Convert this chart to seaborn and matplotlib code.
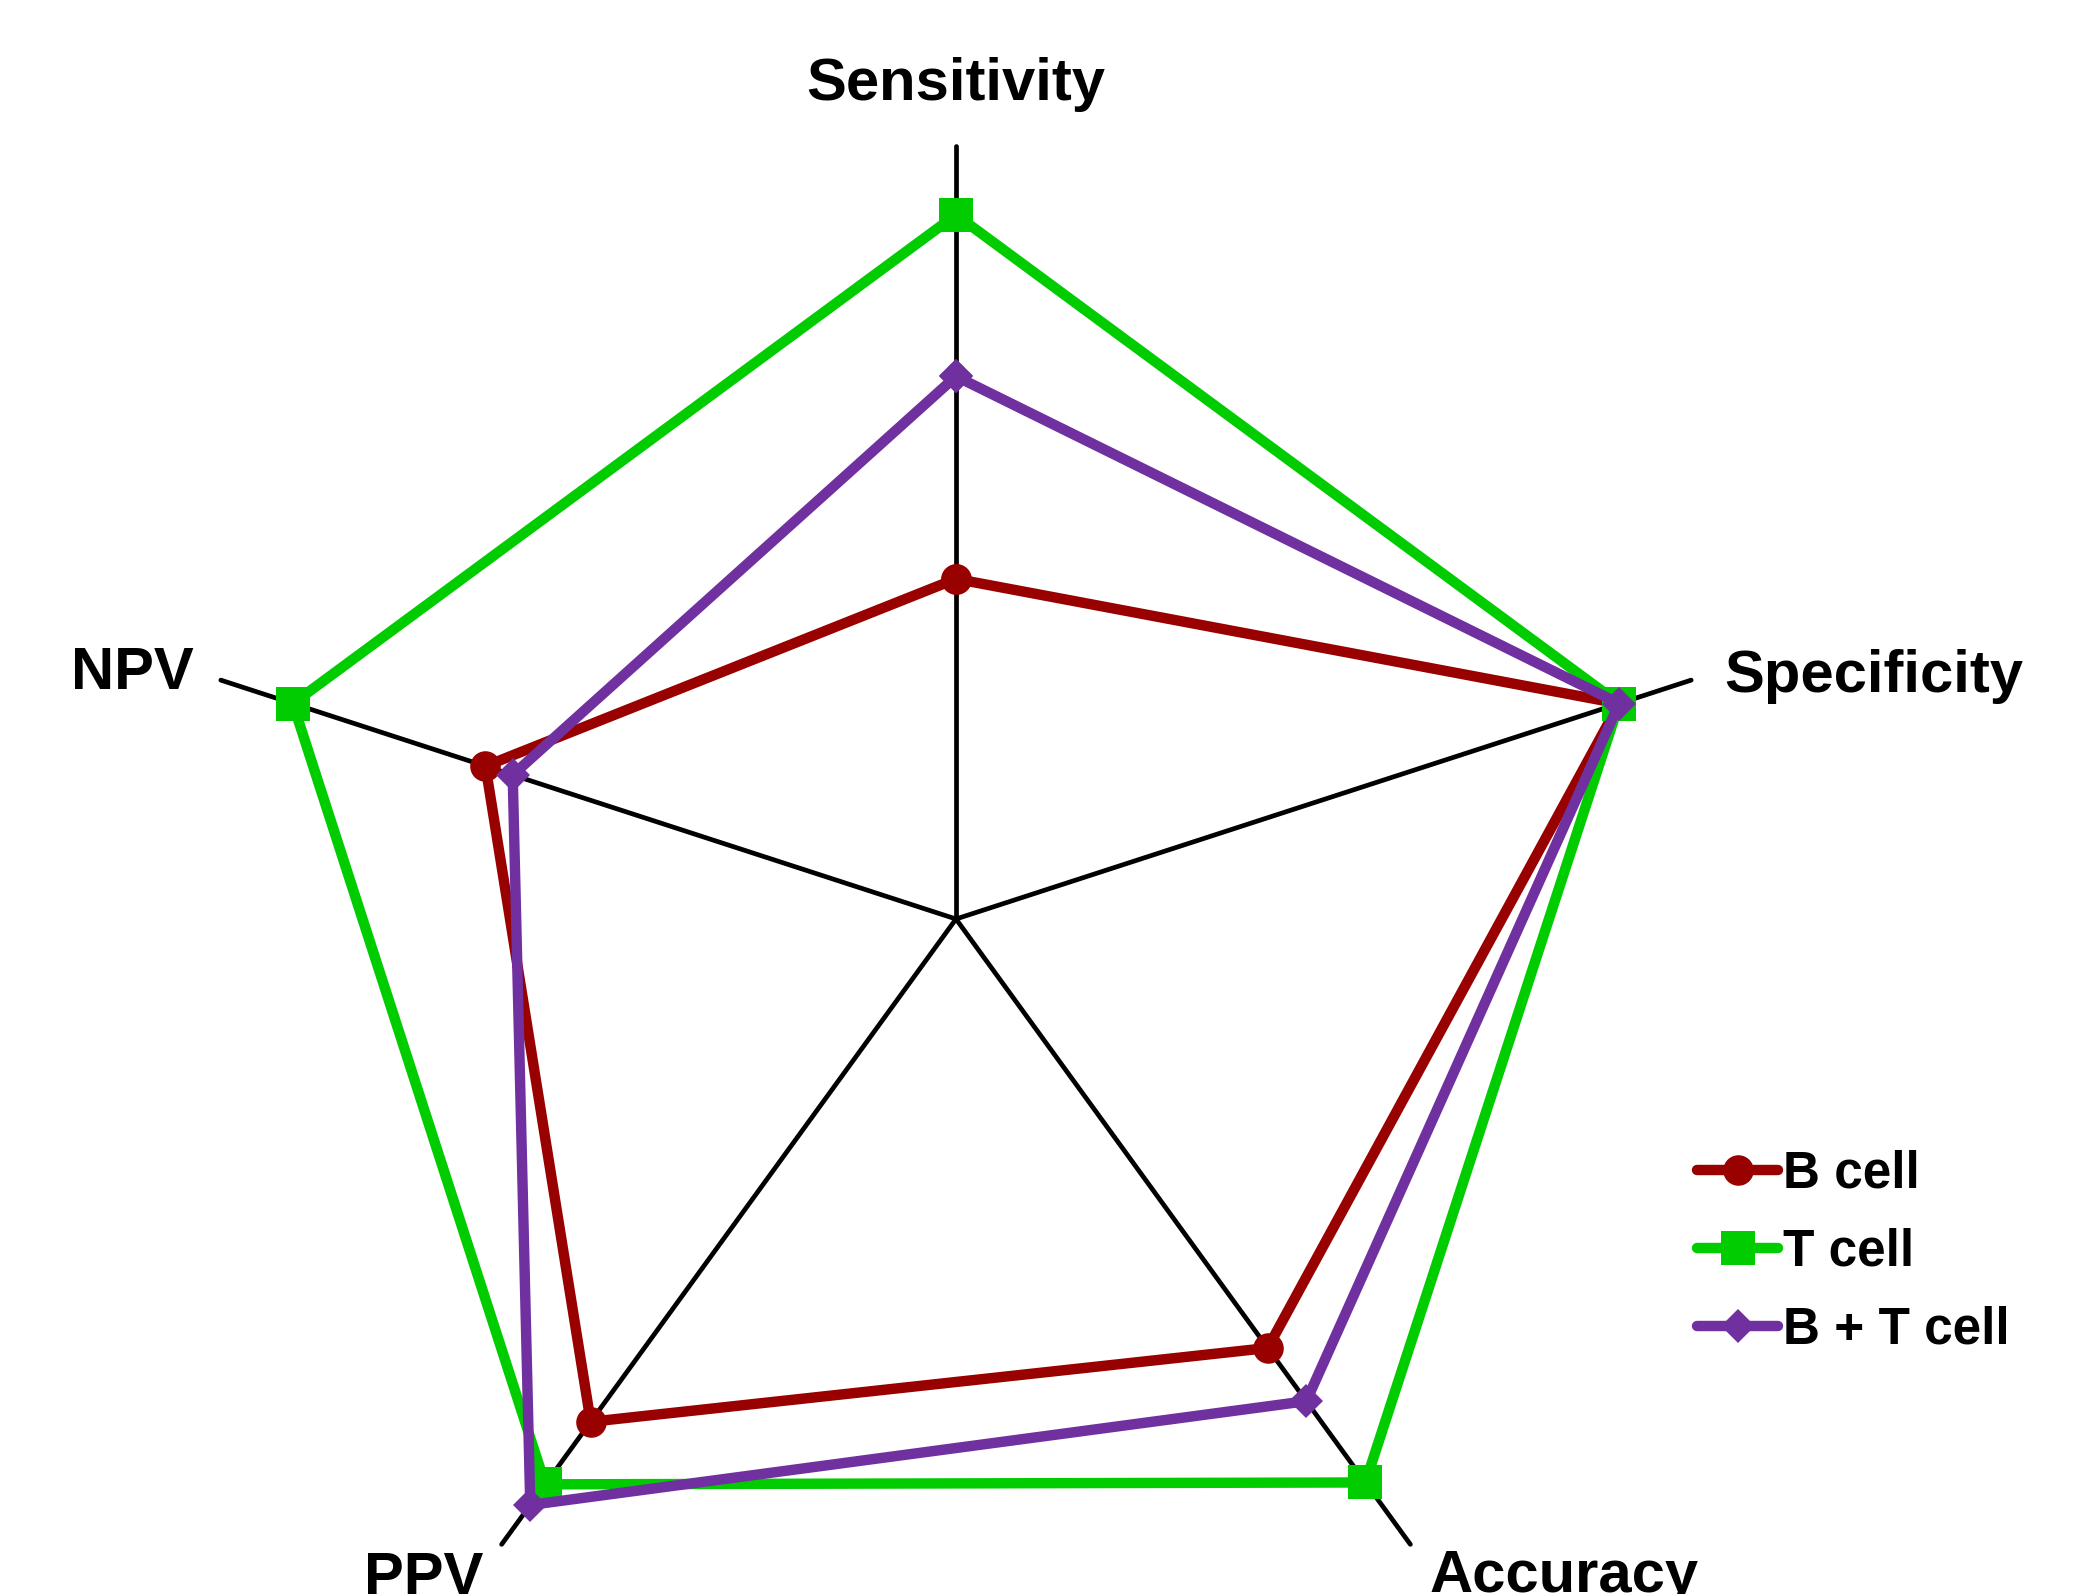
import numpy as np
import pandas as pd
import seaborn as sns
import matplotlib.pyplot as plt

# ------------------------------
# data (axis max = 100)
# ------------------------------
metrics = ["Sensitivity", "Specificity", "Accuracy", "PPV", "NPV"]
b_cell = [44.0, 90.2, 68.6, 80.4, 64.0]
t_cell = [91.1, 90.2, 90.1, 90.4, 90.2]
bt_cell = [70.2, 90.2, 77.1, 93.7, 60.3]
series_names = ["B cell", "T cell", "B + T cell"]
axis_max = 100

colors = ["#990000", "#00CC00", "#7030A0"]
markers = ["o", "s", "D"]
marker_sizes = [22, 25, 17]

# ------------------------------
# long table, polygon closed by repeating the first metric
# ------------------------------
angles = np.linspace(0, 2 * np.pi, len(metrics), endpoint=False)
rows = []
for name, vals in zip(series_names, [b_cell, t_cell, bt_cell]):
    for k, i in enumerate(list(range(len(metrics))) + [0]):
        ang = 2 * np.pi if k == len(metrics) else angles[i]
        rows.append({"group": name, "metric": metrics[i], "angle": ang, "value": vals[i]})
df = pd.DataFrame(rows)

# ------------------------------
# figure
# ------------------------------
sns.set_style("white")
plt.rcParams["font.family"] = ["Liberation Sans", "DejaVu Sans"]
plt.rcParams["text.color"] = "black"

fig = plt.figure(figsize=(20.76, 15.94), dpi=100)
# centre of the web at (956, 919) px, radius 773 px
cx, cy, rad = 956 / 2076, 1 - 919 / 1594, 773
ax = fig.add_axes([cx - rad / 2076, cy - rad / 1594, 2 * rad / 2076, 2 * rad / 1594],
                  projection="polar")
ax.set_theta_offset(np.pi / 2)
ax.set_theta_direction(-1)
ax.set_ylim(0, axis_max)
ax.grid(False)
ax.set_xticks([])
ax.set_yticks([])
ax.spines["polar"].set_visible(False)
ax.patch.set_alpha(0)

# spokes
for a in angles:
    ax.plot([a, a], [0, axis_max], color="black", lw=3.4, zorder=1, clip_on=False)

for name, c, m, ms in zip(series_names, colors, markers, marker_sizes):
    sub = df[df["group"] == name]
    sns.lineplot(data=sub, x="angle", y="value", ax=ax, color=c, marker=m,
                 markersize=ms, markeredgewidth=0, linewidth=7.5, sort=False,
                 estimator=None, label=name, zorder=3, clip_on=False)
ax.set_xlabel("")
ax.set_ylabel("")

handles, labels = ax.get_legend_handles_labels()
ax.get_legend().remove()
fig.legend(handles, labels, loc="upper left", bbox_to_anchor=(1697 / 2076, 1 - 1150 / 1594),
           frameon=False, borderpad=0, borderaxespad=0, handlelength=1.58,
           handletextpad=0.1, labelspacing=0.56,
           prop={"weight": "bold", "size": 37})

# axis labels
label_pos = {
    "Sensitivity": (956, 100, "center"),
    "Specificity": (1724, 692, "left"),
    "NPV": (71, 689, "left"),
    "PPV": (364, 1594, "left"),
    "Accuracy": (1430, 1592, "left"),
}
for name in metrics:
    x, y, ha = label_pos[name]
    fig.text(x / 2076, 1 - y / 1594, name, ha=ha, va="baseline",
             fontsize=43, fontweight="bold", color="black")

fig.savefig("out.png", dpi=100)
